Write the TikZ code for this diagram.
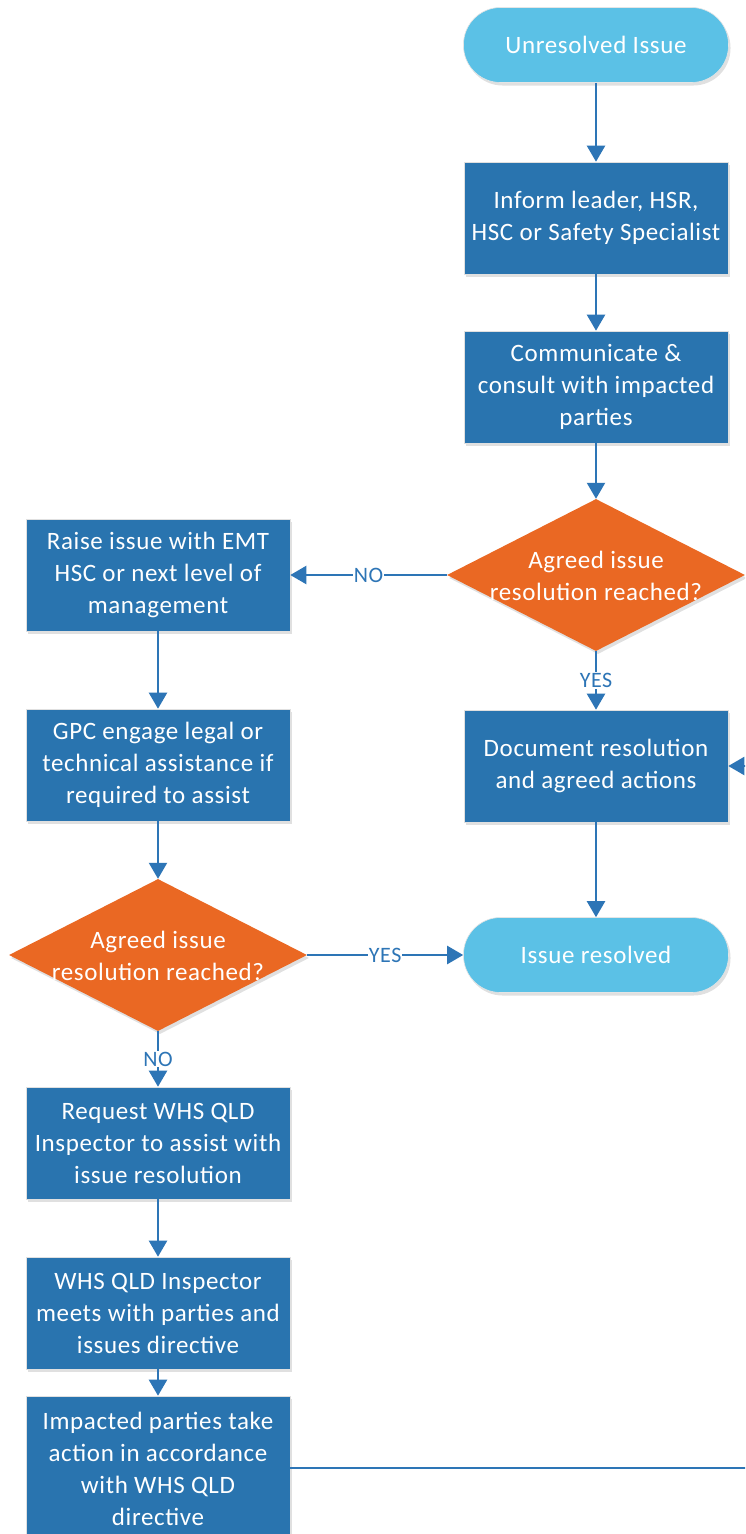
\documentclass[tikz,border=0pt]{standalone}
\usepackage{fontspec}
\setmainfont[LetterSpace=2.5]{Carlito}
\usetikzlibrary{shapes.geometric,arrows.meta,shadows}
\definecolor{boxblue}{RGB}{41,116,175}
\definecolor{termblue}{RGB}{91,193,230}
\definecolor{decorange}{RGB}{234,104,35}
\definecolor{linkblue}{RGB}{45,117,182}
\tikzset{
  shad/.style={drop shadow={shadow xshift=2pt,shadow yshift=-3pt,opacity=0.12,fill=black}},
  procbox/.style={shad,rectangle,fill=boxblue,draw=black!12,line width=0.6pt,minimum width=264pt,minimum height=112pt,
    inner sep=4pt,text=white,align=center,font=\fontsize{25}{32}\selectfont},
  termbox/.style={shad,rectangle,rounded corners=37pt,fill=termblue,draw=black!10,line width=0.6pt,minimum width=265pt,minimum height=75pt,
    text=white,align=center,font=\fontsize{25}{32}\selectfont},
  decbox/.style={shad,diamond,fill=decorange,minimum width=298pt,minimum height=152pt,inner sep=0pt},
  dectext/.style={text=white,align=center,font=\fontsize{25}{32}\selectfont,inner sep=0pt},
  link/.style={draw=linkblue,line width=2.2pt,-{Triangle[width=18pt,length=16pt]}},
  lab/.style={fill=white,text=linkblue,inner sep=1pt,font=\fontsize{22}{26}\selectfont}
}
\begin{document}
\begin{tikzpicture}[x=1pt,y=-1pt]
\useasboundingbox (0,0) rectangle (745,1534);
\clip (0,0) rectangle (745,1534);
\fill[white] (0,0) rectangle (745,1534);

\node[termbox] (u) at (596,45) {Unresolved Issue};
\node[procbox] (inf) at (596,218) {Inform leader, HSR,\\HSC or Safety Specialist};
\node[procbox] (com) at (596,387) {Communicate \&\\consult with impacted\\parties};
\node[decbox] (d1) at (596,575) {};
\node[dectext] (d1t) at (596,576) {Agreed issue\\resolution reached?};
\node[procbox] (rai) at (158,575) {Raise issue with EMT\\HSC or next level of\\management};
\node[procbox] (doc) at (596,766) {Document resolution\\and agreed actions};
\node[procbox] (gpc) at (158,765) {GPC engage legal or\\technical assistance if\\required to assist};
\node[decbox] (d2) at (158,955) {};
\node[dectext] (d2t) at (158,956) {Agreed issue\\resolution reached?};
\node[termbox] (res) at (596,955) {Issue resolved};
\node[procbox] (req) at (158,1143) {Request WHS QLD\\Inspector to assist with\\issue resolution};
\node[procbox] (ins) at (158,1313) {WHS QLD Inspector\\meets with parties and\\issues directive};
\node[procbox,minimum height=146pt] (imp) at (158,1469) {Impacted parties take\\action in accordance\\with WHS QLD\\directive};
\coordinate (rt) at (770,1468);

\draw[link] (u) -- (inf);
\draw[link] (inf) -- (com);
\draw[link] (com) -- (d1);
\draw[link] (d1.west) -- node[lab] {NO} (rai.east);
\draw[link] (d1.south) -- node[lab] {YES} (doc.north);
\draw[link] (rai) -- (gpc);
\draw[link] (gpc) -- (d2);
\draw[link] (d2.east) -- node[lab] {YES} (res.west);
\draw[link] (doc) -- (res);
\draw[link] (d2.south) -- node[lab] {NO} (req.north);
\draw[link] (req) -- (ins);
\draw[link] (ins) -- (imp);
\draw[link] (imp.east |- rt) -- (rt) |- (doc.east);
\end{tikzpicture}
\end{document}
